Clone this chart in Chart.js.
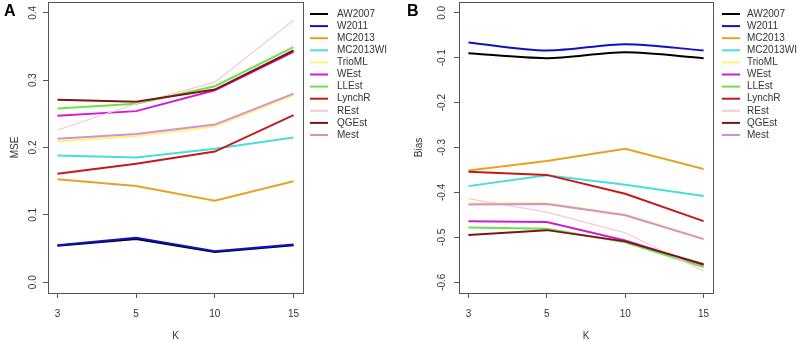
<!DOCTYPE html>
<html>
<head>
<meta charset="utf-8">
<script src="https://cdn.jsdelivr.net/npm/chart.js@4.4.0/dist/chart.umd.min.js"></script>
<style>
  body { margin: 0; background: #fff; }
  #wrap { position: relative; width: 799px; height: 342px; }
  canvas { position: absolute; top: 0; }
</style>
</head>
<body>
<div id="wrap">
  <canvas id="panelA" width="400" height="342" style="left:0"></canvas>
  <canvas id="panelB" width="399" height="342" style="left:400px"></canvas>
</div>
<script>
// x categories (K) and method names
const kLabels = ['3', '5', '10', '15'];
const methods = ['AW2007', 'W2011', 'MC2013', 'MC2013WI', 'TrioML', 'WEst', 'LLEst', 'LynchR', 'REst', 'QGEst', 'Mest'];

// panel A: MSE, one row per method (same order as methods)
const mseValues = [
    [0.054, 0.064, 0.045, 0.055],   // AW2007
    [0.055, 0.066, 0.046, 0.056],   // W2011
    [0.153, 0.143, 0.121, 0.150],   // MC2013
    [0.188, 0.185, 0.198, 0.215],   // MC2013WI
    [0.209, 0.217, 0.231, 0.278],   // TrioML
    [0.247, 0.254, 0.285, 0.342],   // WEst
    [0.258, 0.265, 0.291, 0.349],   // LLEst
    [0.161, 0.176, 0.194, 0.248],   // LynchR
    [0.226, 0.265, 0.297, 0.389],   // REst
    [0.271, 0.268, 0.286, 0.344],   // QGEst
    [0.213, 0.220, 0.234, 0.280]    // Mest
];

// panel B: Bias
const biasValues = [
    [-0.090, -0.101, -0.088, -0.101],
    [-0.066, -0.084, -0.070, -0.084],
    [-0.351, -0.330, -0.303, -0.348],
    [-0.386, -0.362, -0.383, -0.408],
    [-0.424, -0.424, -0.449, -0.503],
    [-0.464, -0.466, -0.507, -0.562],
    [-0.478, -0.481, -0.511, -0.566],
    [-0.354, -0.361, -0.403, -0.464],
    [-0.414, -0.444, -0.490, -0.575],
    [-0.495, -0.484, -0.509, -0.560],
    [-0.427, -0.426, -0.451, -0.504]
];

const mseTicks = [0, 0.1, 0.2, 0.3, 0.4];
const biasTicks = [-0.6, -0.5, -0.4, -0.3, -0.2, -0.1, 0];

const lineColors = ['#000000', '#1010c8', '#e6a323', '#48dede', '#fff27a', '#d21cd2',
                    '#6ee04a', '#c41a1a', '#f3cbd3', '#7a1616', '#d492cc'];

const font = "'Liberation Sans', Arial, sans-serif";
const axisColor = '#555';
const textColor = '#333';

// box around plot, legend and panel letter
const decorPlugin = {
    id: 'decor',
    afterDraw(chart) {
        const ctx = chart.ctx;
        const a = chart.chartArea;
        const opts = chart.options.plugins.decor;
        ctx.save();
        ctx.strokeStyle = axisColor;
        ctx.lineWidth = 1;
        ctx.strokeRect(a.left + 0.5, a.top + 0.5, a.right - a.left, a.bottom - a.top);

        ctx.font = '10px ' + font;
        ctx.textBaseline = 'middle';
        methods.forEach(function (m, i) {
            const y = 14 + i * 12.1;
            ctx.strokeStyle = lineColors[i];
            ctx.lineWidth = 2;
            ctx.beginPath();
            ctx.moveTo(a.right + opts.legendX, y);
            ctx.lineTo(a.right + opts.legendX + 18, y);
            ctx.stroke();
            ctx.fillStyle = textColor;
            ctx.fillText(m, a.right + 34, y);
        });

        ctx.font = 'bold 16px ' + font;
        ctx.fillStyle = '#000';
        ctx.textBaseline = 'alphabetic';
        ctx.fillText(opts.letter, opts.letterX, 16);
        ctx.restore();
    }
};

function makePanel(id, values, yMin, yMax, yTicks, yTitle, letter, letterX, yWidth, padRight, legendX, smooth) {
    const datasets = methods.map(function (m, i) {
        return {
            label: m,
            data: values[i].map(function (v, j) { return { x: j + 1, y: v }; }),
            borderColor: lineColors[i],
            borderWidth: m === 'REst' ? 1.2 : 2,
            pointRadius: 0,
            tension: (smooth && i < 2) ? 0.3 : 0,
            fill: false,
            order: -i
        };
    });

    return new Chart(document.getElementById(id), {
        type: 'line',
        data: { datasets: datasets },
        plugins: [decorPlugin],
        options: {
            responsive: false,
            animation: false,
            layout: { padding: { top: 2, right: padRight, left: 0, bottom: 0 } },
            plugins: {
                legend: { display: false },
                tooltip: { enabled: false },
                decor: { letter: letter, letterX: letterX, legendX: legendX }
            },
            scales: {
                x: {
                    type: 'linear',
                    min: 0.88,
                    max: 4.12,
                    afterBuildTicks: function (s) {
                        s.ticks = kLabels.map(function (k, j) { return { value: j + 1 }; });
                    },
                    afterFit: function (s) {
                        s.height = 49;
                        s.paddingLeft = 0;
                        s.paddingRight = 0;
                    },
                    ticks: {
                        callback: function (v) { return kLabels[v - 1]; },
                        font: { family: font, size: 10 },
                        color: textColor,
                        padding: 10,
                        maxRotation: 0,
                        autoSkip: false
                    },
                    grid: { drawOnChartArea: false, tickLength: 5, tickColor: axisColor },
                    border: { display: false },
                    title: {
                        display: true,
                        text: 'K',
                        font: { family: font, size: 10 },
                        color: textColor,
                        padding: 0
                    }
                },
                y: {
                    type: 'linear',
                    min: yMin,
                    max: yMax,
                    afterBuildTicks: function (s) {
                        s.ticks = yTicks.map(function (v) { return { value: v }; });
                    },
                    afterFit: function (s) {
                        s.width = yWidth;
                        s.paddingTop = 0;
                        s.paddingBottom = 0;
                    },
                    ticks: {
                        callback: function (v) { return v.toFixed(1); },
                        font: { family: font, size: 10 },
                        color: textColor,
                        minRotation: 90,
                        maxRotation: 90,
                        crossAlign: 'center',
                        padding: 3
                    },
                    grid: { drawOnChartArea: false, tickLength: 5, tickColor: axisColor },
                    border: { display: false },
                    title: {
                        display: true,
                        text: yTitle,
                        font: { family: font, size: 10 },
                        color: textColor,
                        padding: { top: yWidth === 48 ? 9 : 13 }
                    }
                }
            }
        }
    });
}

makePanel('panelA', mseValues, -0.016, 0.416, mseTicks, 'MSE', 'A', 4, 48, 97, 7, false);
makePanel('panelB', biasValues, -0.624, 0.024, biasTicks, 'Bias', 'B', 7, 59, 86, 9, true);
</script>
</body>
</html>
